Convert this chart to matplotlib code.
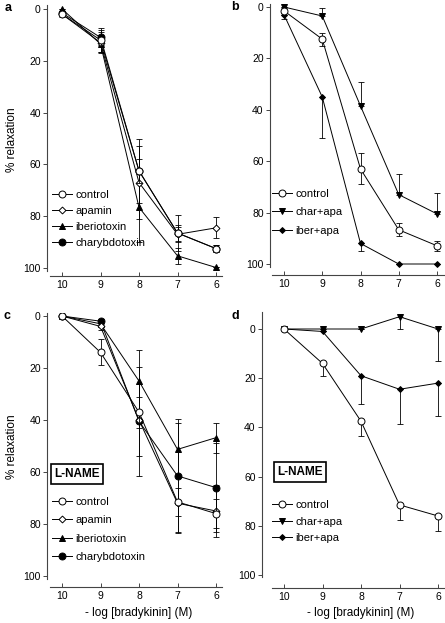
import numpy as np
import matplotlib
matplotlib.use("Agg")
import matplotlib.pyplot as plt

plt.rcParams['font.family'] = ['Liberation Sans', 'DejaVu Sans']

# -log [bradykinin] (M)
conc = [10, 9, 8, 7, 6]
yticks = [0, 20, 40, 60, 80, 100]

# panel a
a_control = [2, 12, 62.5, 86.5, 92.5]
a_control_err = [1, 4.5, 4.5, 7, 1.5]
a_apamin = [2, 13, 67, 87, 84.5]
a_apamin_err = [0, 4, 14, 3, 4]
a_iberio = [0, 13.5, 76.6, 95.3, 99.8]
a_iberio_err = [0, 3, 13.2, 3, 0]
a_charyb = [1.5, 11, 62.5, 86.5, 92.5]
a_charyb_err = [0, 3, 12.5, 3, 1.5]

# panel b
b_control = [1.5, 12.5, 63, 86.7, 92.9]
b_control_err = [1, 2.5, 6, 2.5, 2]
b_charapa = [0, 3.5, 38.5, 73, 80.5]
b_charapa_lo = [0, 3, 9.5, 8, 8]
b_iberapa = [3, 35, 92, 100, 100]
b_iberapa_lo = [0, 0, 0, 0, 0]
b_iberapa_hi = [1.5, 16, 3, 0, 0]

# panel c (L-NAME)
c_control = [0, 14, 37, 71.5, 76]
c_control_err = [0, 5, 6, 5.5, 5.5]
c_apamin = [0, 4, 40, 72, 75]
c_apamin_err = [0, 1.5, 14, 11, 10]
c_iberio = [0, 3, 25, 51.3, 46.8]
c_iberio_err = [0, 1, 12, 10.3, 5.8]
c_charyb = [0, 2, 40.5, 61.5, 66]
c_charyb_err = [0, 1, 21, 22, 17]

# panel d (L-NAME)
d_control = [0, 14, 37.5, 71.5, 76]
d_control_hi = [0, 5, 6, 6, 6]
d_charapa = [0, 0, 0, -5, 0]
d_charapa_hi = [0, 0, 0, 5, 13]
d_iberapa = [0, 1, 19, 24.5, 22]
d_iberapa_hi = [0, 0, 11.5, 14, 13.5]

W, H = 445, 623
fig = plt.figure(figsize=(W / 100, H / 100), dpi=100)

LW = 0.7


def make_axes(x10, x6, y0, y100, xlim, ylim, yspine_x, xspine_y):
    px = lambda v: x10 + (10 - v) * (x6 - x10) / 4.0
    py = lambda v: y0 + v * (y100 - y0) / 100.0
    left, right = px(xlim[0]), px(xlim[1])
    top, bottom = py(ylim[0]), py(ylim[1])
    ax = fig.add_axes([left / W, 1 - bottom / H, (right - left) / W, (bottom - top) / H])
    ax.set_xlim(xlim)
    ax.set_ylim(ylim[1], ylim[0])
    for s in ['top', 'right']:
        ax.spines[s].set_visible(False)
    ax.spines['left'].set_position(('outward', (left - yspine_x) * 0.72))
    ax.spines['bottom'].set_position(('outward', (xspine_y - bottom) * 0.72))
    for s in ['left', 'bottom']:
        ax.spines[s].set_linewidth(0.8)
        ax.spines[s].set_color('#444444')
    ax.set_xticks(conc)
    ax.set_xticklabels([str(c) for c in conc])
    ax.set_yticks(yticks)
    ax.tick_params(axis='y', direction='out', length=3, width=0.7, labelsize=7.5, pad=1.5, color='#444444')
    ax.tick_params(axis='x', direction='in', length=3, width=0.7, labelsize=7.5, pad=3, color='#444444')
    ax.patch.set_visible(False)
    return ax


def series(ax, y, lo, hi, marker, face, ms, label, z):
    # error bars first, then line + markers (used for the legend)
    ax.errorbar(conc, y, yerr=[lo, hi], fmt='none', ecolor='black', elinewidth=0.6,
                capsize=2.5, capthick=0.6, zorder=z - 0.5)
    ax.plot(conc, y, color='black', lw=LW, marker=marker, mfc=face, mec='black',
            mew=0.7, ms=ms, label=label, zorder=z)


def legend(ax, x, y, spacing):
    ax.legend(loc='upper left', bbox_to_anchor=(x / W, 1 - y / H), bbox_transform=fig.transFigure,
              frameon=False, fontsize=8, handlelength=1.8, handletextpad=0.3,
              borderpad=0, borderaxespad=0, labelspacing=spacing)


zeros = [0, 0, 0, 0, 0]

# a
ax = make_axes(62, 216, 9, 268, (10.31, 5.84), (-1.5, 101), 47, 276)
series(ax, a_control, a_control_err, a_control_err, 'o', 'white', 5, 'control', 5)
series(ax, a_apamin, a_apamin_err, a_apamin_err, 'D', 'white', 3.5, 'apamin', 4)
series(ax, a_iberio, a_iberio_err, a_iberio_err, '^', 'black', 4.5, 'iberiotoxin', 3)
series(ax, a_charyb, a_charyb_err, a_charyb_err, 'o', 'black', 5, 'charybdotoxin', 2)
legend(ax, 52, 190, 0.55)

# b
ax = make_axes(284, 437, 7, 264, (10.31, 5.82), (-1.2, 101), 270, 275)
series(ax, b_control, b_control_err, b_control_err, 'o', 'white', 5, 'control', 5)
series(ax, b_charapa, b_charapa_lo, zeros, 'v', 'black', 4.5, 'char+apa', 4)
series(ax, b_iberapa, b_iberapa_lo, b_iberapa_hi, 'D', 'black', 3, 'iber+apa', 3)
legend(ax, 272, 189, 0.75)

# c
ax = make_axes(62, 216, 316, 576, (10.31, 5.84), (-1.2, 101), 47, 587)
series(ax, c_control, c_control_err, c_control_err, 'o', 'white', 5, 'control', 5)
series(ax, c_apamin, c_apamin_err, c_apamin_err, 'D', 'white', 3.5, 'apamin', 4)
series(ax, c_iberio, c_iberio_err, c_iberio_err, '^', 'black', 4.5, 'iberiotoxin', 3)
series(ax, c_charyb, c_charyb_err, c_charyb_err, 'o', 'black', 5, 'charybdotoxin', 2)
legend(ax, 52, 497, 0.75)

# d
ax = make_axes(284, 438, 329, 575, (10.31, 5.83), (-7, 101), 262, 588)
series(ax, d_control, zeros, d_control_hi, 'o', 'white', 5, 'control', 5)
series(ax, d_charapa, zeros, d_charapa_hi, 'v', 'black', 4.5, 'char+apa', 4)
series(ax, d_iberapa, zeros, d_iberapa_hi, 'D', 'black', 3, 'iber+apa', 3)
legend(ax, 272, 500, 0.6)

# labels
box = dict(boxstyle='square,pad=0.3', fc='white', ec='black', lw=1.2)
fig.text(77 / W, 1 - 474 / H, 'L-NAME', fontsize=8.5, fontweight='bold', ha='center', va='center', bbox=box)
fig.text(300 / W, 1 - 472 / H, 'L-NAME', fontsize=8.5, fontweight='bold', ha='center', va='center', bbox=box)

fig.text(12 / W, 1 - 140 / H, '% relaxation', fontsize=8.5, rotation=90, ha='center', va='center')
fig.text(12 / W, 1 - 447 / H, '% relaxation', fontsize=8.5, rotation=90, ha='center', va='center')
fig.text(139 / W, 1 - 613 / H, '- log [bradykinin] (M)', fontsize=8.5, ha='center', va='center')
fig.text(361 / W, 1 - 613 / H, '- log [bradykinin] (M)', fontsize=8.5, ha='center', va='center')

for letter, x, y in [('a', 8, 8), ('b', 235, 7), ('c', 7, 316), ('d', 235, 316)]:
    fig.text(x / W, 1 - y / H, letter, fontsize=9, fontweight='bold', ha='center', va='center')

fig.savefig('out.png', dpi=100)
